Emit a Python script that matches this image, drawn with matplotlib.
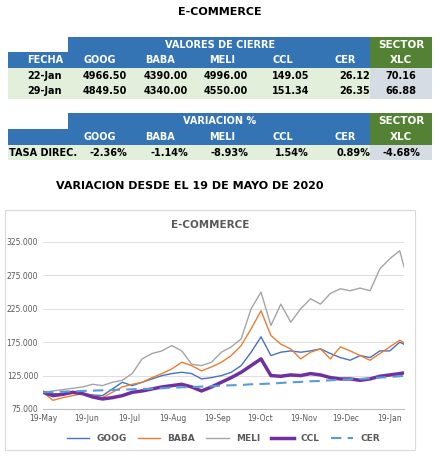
import matplotlib
matplotlib.use("Agg")
import matplotlib.pyplot as plt
import matplotlib.dates as mdates
import pandas as pd
from matplotlib.patches import Rectangle

tickers = ["GOOG", "BABA", "MELI", "CCL", "CER"]
fechas = ["22-Jan", "29-Jan"]
row_22 = ["4966.50", "4390.00", "4996.00", "149.05", "26.12", "70.16"]
row_29 = ["4849.50", "4340.00", "4550.00", "151.34", "26.35", "66.88"]
variacion = ["-2.36%", "-1.14%", "-8.93%", "1.54%", "0.89%", "-4.68%"]

dates = list(pd.date_range("2020-05-19", "2021-01-26", freq="7D")) + [pd.Timestamp("2021-01-29")]
meli = [100,102,104,106,108,112,110,115,118,128,150,158,162,170,162,142,140,145,160,168,180,225,250,200,232,205,225,240,232,248,255,252,256,252,285,300,312,288]
baba = [100,88,92,95,98,95,92,100,108,112,115,122,128,135,145,140,132,138,145,155,170,195,222,185,172,165,150,160,165,150,168,162,155,148,158,168,178,174]
goog = [100,98,97,100,98,96,95,105,115,110,115,120,125,128,130,128,120,122,125,130,140,160,183,155,160,162,160,162,165,158,152,148,155,152,162,162,175,172]
ccl = [100,95,97,100,98,93,90,92,95,100,102,105,108,110,112,108,102,108,115,122,130,140,150,125,124,126,125,128,126,122,120,120,118,120,124,126,128,129]
cer = [100,100.5,101,101.5,102,102.5,103,103.5,104,104.5,105,105.5,106,107,107.5,108,108.5,109,110,110.5,111,112,112.5,113,114,115,115.5,116.5,117,118,119,119.5,120,121,122,123,124,125]

W, H = 440, 459
fig = plt.figure(figsize=(W/100, H/100), dpi=100)
bg = fig.add_axes([0, 0, 1, 1])
bg.set_xlim(0, W); bg.set_ylim(H, 0); bg.axis("off")

BLUE = "#3474B4"; GREEN = "#548235"; LG = "#E2EFDA"; GR = "#D6DCE4"
def rect(x0, y0, x1, y1, c):
    bg.add_patch(Rectangle((x0, y0), x1-x0, y1-y0, color=c, lw=0))
def txt(x, y, s, c="black", ha="center", size=7):
    bg.text(x, y, s, color=c, ha=ha, va="center", fontsize=size, fontweight="bold")

bg.text(220, 12, "E-COMMERCE", ha="center", va="center", fontsize=8, fontweight="bold")
cols = [100, 160, 222, 283, 345]
rights = [127, 188, 248, 309, 370]
# table 1
rect(68, 37, 370, 52, BLUE); rect(370, 37, 432, 68, GREEN); rect(8, 52, 370, 68, BLUE)
rect(8, 68, 370, 99, LG); rect(370, 68, 432, 99, GR)
txt(220, 45, "VALORES DE CIERRE", "white"); txt(401, 45, "SECTOR", "white", size=7.5)
txt(45, 60, "FECHA", "white"); txt(401, 60, "XLC", "white", size=7.5)
for c, t in zip(cols, tickers):
    txt(c, 60, t, "white")
for y, f, row in [(76, fechas[0], row_22), (91, fechas[1], row_29)]:
    txt(45, y, f)
    for r, v in zip(rights, row[:5]):
        txt(r, y, v, ha="right")
    txt(401, y, row[5])
# table 2
rect(68, 113, 370, 129, BLUE); rect(370, 113, 432, 145, GREEN); rect(8, 129, 370, 145, BLUE)
rect(8, 145, 370, 160, LG); rect(370, 145, 432, 160, GR)
txt(220, 121, "VARIACION %", "white"); txt(401, 121, "SECTOR", "white", size=7.5)
txt(401, 137, "XLC", "white", size=7.5)
for c, t in zip(cols, tickers):
    txt(c, 137, t, "white")
txt(9, 153, "TASA DIREC.", ha="left")
for r, v in zip(rights, variacion[:5]):
    txt(r, 153, v, ha="right")
txt(401, 153, variacion[5])

bg.text(190, 186, "VARIACION DESDE EL 19 DE MAYO DE 2020", ha="center", va="center", fontsize=8, fontweight="bold")
bg.add_patch(Rectangle((5, 210), 410, 240, fill=False, ec="#D9D9D9", lw=0.8))
bg.text(210, 225, "E-COMMERCE", ha="center", va="center", fontsize=7.5, fontweight="bold", color="#595959")

ax = fig.add_axes([43/W, 1-409/H, (404-43)/W, (409-242)/H])
ax.plot(dates, goog, color="#4472C4", lw=1, label="GOOG")
ax.plot(dates, baba, color="#ED7D31", lw=1, label="BABA")
ax.plot(dates, meli, color="#A5A5A5", lw=1, label="MELI")
ax.plot(dates, ccl, color="#7030A0", lw=2.5, label="CCL")
ax.plot(dates, cer, color="#5B9BD5", lw=1.5, ls=(0, (5, 3)), label="CER")
ax.set_ylim(75, 325)
ax.set_yticks([75, 125, 175, 225, 275, 325])
ax.set_yticklabels([f"{v:.3f}" for v in [75, 125, 175, 225, 275, 325]])
ax.set_xlim(dates[0], pd.Timestamp("2021-01-29"))
ax.set_xticks([pd.Timestamp(f"{y}-{m:02d}-19") for y, m in [(2020,5),(2020,6),(2020,7),(2020,8),(2020,9),(2020,10),(2020,11),(2020,12),(2021,1)]])
ax.xaxis.set_major_formatter(mdates.DateFormatter("%d-%b"))
ax.grid(axis="y", color="#D9D9D9", lw=0.6)
for s in ["top", "right", "left"]:
    ax.spines[s].set_visible(False)
ax.spines["bottom"].set_color("#BFBFBF")
ax.tick_params(labelsize=5.5, colors="#595959", length=0)
ax.legend(loc="upper center", bbox_to_anchor=(0.5, -0.1), ncol=5, frameon=False,
          prop={"size": 6.5, "weight": "bold"}, labelcolor="#595959", handlelength=2.5, columnspacing=1.2)
fig.savefig("out.png", dpi=100)
